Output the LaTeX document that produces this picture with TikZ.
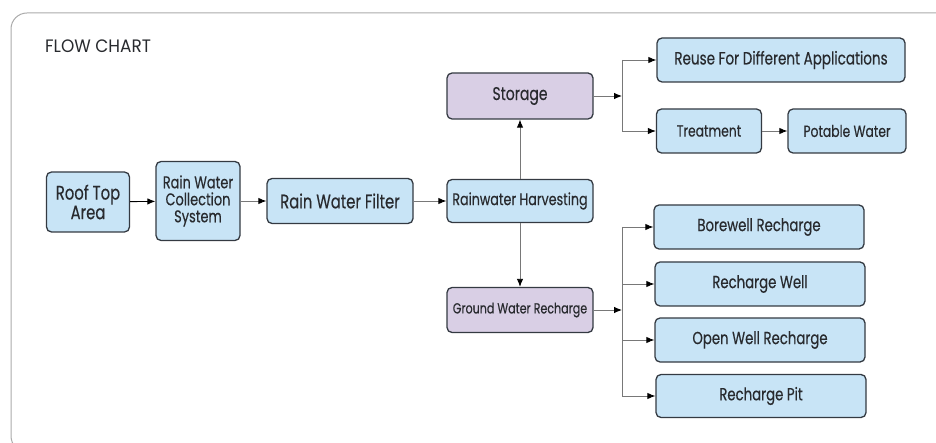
\documentclass[tikz,border=0pt]{standalone}
\usepackage{fontspec}
\setmainfont{Poppins}[FakeStretch=0.76, FakeBold=0.35]
\usetikzlibrary{arrows.meta}

\definecolor{boxblue}{RGB}{200,228,246}
\definecolor{boxpurple}{RGB}{217,207,229}
\definecolor{boxedge}{RGB}{52,58,66}
\definecolor{inkdark}{RGB}{40,42,46}
\definecolor{shaft}{RGB}{120,120,120}
\definecolor{frameline}{RGB}{170,170,170}

\tikzset{
  flowbox/.style={draw=boxedge, line width=1.3pt, rounded corners=5pt,
    fill=boxblue, text=inkdark, inner sep=0pt, align=center},
  hubbox/.style={flowbox, fill=boxpurple},
  flowarrow/.style={draw=shaft, line width=0.9pt,
    -{Latex[black,length=8pt,width=6.5pt]}},
  flowline/.style={draw=shaft, line width=0.9pt}
}

\begin{document}
\begin{tikzpicture}[x=1pt,y=-1pt]
  \useasboundingbox (0,0) rectangle (936,443);
  \clip (0,0) rectangle (936,443);

  % outer frame
  \draw[frameline, line width=1pt, rounded corners=16pt]
    (960,13) -- (11,13) -- (11,452) -- (960,452);

  % title
  \node[anchor=west, text=inkdark, inner sep=0pt,
        font=\fontsize{18}{18}\selectfont\addfontfeatures{FakeStretch=0.94, FakeBold=0}]
    (title) at (45,46) {FLOW CHART};

  % main chain
  \node[flowbox, minimum width=83pt, minimum height=60pt,
        font=\fontsize{19.5}{18}\selectfont] (roof) at (88,202) {Roof Top\\Area};
  \node[flowbox, minimum width=84pt, minimum height=79pt,
        font=\fontsize{17}{17}\selectfont] (coll) at (198,201) {Rain Water\\Collection\\System};
  \node[flowbox, minimum width=146pt, minimum height=45pt,
        font=\fontsize{19.5}{19.5}\selectfont] (filter) at (340,201) {Rain Water Filter};
  \node[flowbox, minimum width=146pt, minimum height=43pt,
        font=\fontsize{16.7}{16.7}\selectfont] (harv) at (520,201) {Rainwater Harvesting};
  \node[hubbox, minimum width=146pt, minimum height=46pt,
        font=\fontsize{18.4}{18.4}\selectfont] (stor) at (520,96) {Storage};
  \node[hubbox, minimum width=146pt, minimum height=45pt,
        font=\fontsize{14.6}{14.6}\selectfont] (gwr) at (520,310) {Ground Water Recharge};

  % storage branch
  \node[flowbox, minimum width=248pt, minimum height=44pt,
        font=\fontsize{17.8}{17.8}\selectfont] (reuse) at (781,60) {Reuse For Different Applications};
  \node[flowbox, minimum width=105pt, minimum height=44pt,
        font=\fontsize{16.2}{16.2}\selectfont] (treat) at (709,131) {Treatment};
  \node[flowbox, minimum width=118pt, minimum height=44pt,
        font=\fontsize{16.2}{16.2}\selectfont] (pot) at (847,131) {Potable Water};

  % recharge branch
  \node[flowbox, minimum width=210pt, minimum height=44pt,
        font=\fontsize{17.5}{17.5}\selectfont] (bore) at (759,227) {Borewell Recharge};
  \node[flowbox, minimum width=210pt, minimum height=44pt,
        font=\fontsize{17.5}{17.5}\selectfont] (rwell) at (760,284) {Recharge Well};
  \node[flowbox, minimum width=210pt, minimum height=44pt,
        font=\fontsize{17.5}{17.5}\selectfont] (owell) at (760,340) {Open Well Recharge};
  \node[flowbox, minimum width=210pt, minimum height=43pt,
        font=\fontsize{17.5}{17.5}\selectfont] (pit) at (761,396) {Recharge Pit};

  % main chain connectors
  \draw[flowarrow, draw=black] (roof) -- (coll);
  \draw[flowarrow] (coll) -- (filter);
  \draw[flowarrow] (filter) -- (harv);
  \draw[flowarrow] (harv) -- (stor);
  \draw[flowarrow] (harv) -- (gwr);
  \draw[flowarrow] (treat) -- (pot);

  % storage splitter
  \coordinate (sjoin) at (622,96);
  \coordinate (stop) at (622,60);
  \coordinate (sbot) at (622,131);
  \draw[flowarrow] (stor.east) -- (sjoin);
  \draw[flowline] (stop) -- (sbot);
  \draw[flowarrow] (stop) -- (reuse.west);
  \draw[flowarrow] (sbot) -- (treat.west);

  % recharge splitter
  \coordinate (gjoin) at (622,310);
  \coordinate (g1) at (622,227);
  \coordinate (g2) at (622,284);
  \coordinate (g3) at (622,340);
  \coordinate (g4) at (622,396);
  \draw[flowarrow] (gwr.east) -- (gjoin);
  \draw[flowline] (g1) -- (g4);
  \draw[flowarrow] (g1) -- (bore.west);
  \draw[flowarrow] (g2) -- (rwell.west);
  \draw[flowarrow] (g3) -- (owell.west);
  \draw[flowarrow] (g4) -- (pit.west);
\end{tikzpicture}
\end{document}
